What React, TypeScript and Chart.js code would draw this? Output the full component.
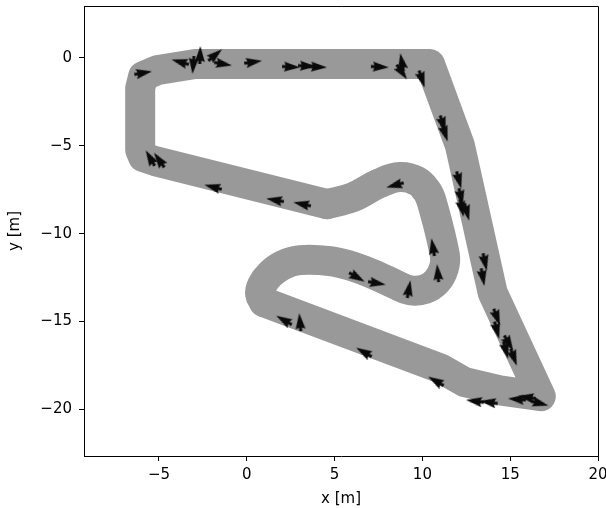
import React, { useEffect, useRef } from 'react';
import { Chart, registerables } from 'chart.js';

Chart.register(...registerables);

// Track centre line (m): straight / cornered part
const trackSharpX = [4.57, -5.22, -5.90, -6.07, -6.07, -5.90, -5.05, -2.94, 10.43, 12.13, 14.01, 16.74, 14.41, 12.42, 11.00, 0.98];
const trackSharpY = [-8.32, -5.87, -5.64, -5.24, -1.71, -1.03, -0.68, -0.34, -0.34, -4.96, -13.39, -19.26, -18.92, -18.46, -17.66, -13.90];
// Track centre line (m): smooth S-bends and hairpin
const trackCurveX = [4.57, 6.05, 7.58, 8.72, 9.69, 10.26, 10.54, 11.28, 11.22, 10.82, 10.14, 9.29, 8.44, 7.58, 6.16, 4.74, 3.03, 2.06, 1.33, 0.87, 0.76, 0.98];
const trackCurveY = [-8.32, -7.92, -7.12, -6.78, -7.01, -7.58, -8.21, -11.23, -11.97, -12.71, -13.16, -13.22, -12.88, -12.48, -11.91, -11.57, -11.51, -11.79, -12.31, -12.93, -13.45, -13.90];

// Arrow positions (m) and headings (deg, counter-clockwise from +x)
const arrowX = [-5.90, -3.79, -3.05, -2.66, -1.80, -1.35, 0.36, 2.52, 3.43, 4.06, 7.58, 8.83, 8.83, 9.97, 11.17, 11.28, 12.08, 12.19, 12.24, 12.53, 13.56, 13.44, 14.24, 14.24, 14.92, 14.75, 15.20, 15.38, 15.94, 16.68, 12.99, 13.78, 10.77, 6.67, 2.12, 3.03, 6.27, 7.41, 9.23, 10.60, 10.88, 8.44, 1.61, 3.15, -1.92, -5.50, -4.99];
const arrowY = [-0.85, -0.23, -0.40, 0.17, 0.17, -0.34, -0.23, -0.51, -0.46, -0.51, -0.51, -0.23, -0.80, -1.20, -3.76, -4.27, -6.95, -7.92, -8.55, -8.77, -11.62, -12.48, -14.76, -15.50, -16.24, -16.64, -17.04, -19.43, -19.32, -19.66, -19.54, -19.60, -18.40, -16.75, -14.93, -15.04, -12.48, -12.82, -13.16, -10.77, -12.25, -7.24, -8.09, -8.32, -7.35, -5.70, -5.81];
const arrowAngle = [10, 164, -95, 88, 40, -10, 8, -3, -3, -3, -3, 100, -55, -72, -72, -72, -75, -78, -78, -75, -78, -80, -70, -75, -60, -75, -70, 175, 172, -15, 172, 172, 150, 150, 150, 95, -30, -10, 80, 100, 95, 195, 170, 168, 165, 120, 125];

const xTicks = [-5, 0, 5, 10, 15, 20];
const yTicks = [-20, -15, -10, -5, 0];

function fmt(v: number | string) {
  const n = Number(v);
  return n < 0 ? '\u2212' + Math.abs(n) : String(n);
}

function makeArrow(): HTMLCanvasElement {
  const c = document.createElement('canvas');
  c.width = 24;
  c.height = 24;
  const g = c.getContext('2d')!;
  g.translate(12, 12);
  g.fillStyle = '#0a0a0a';
  g.beginPath();
  g.moveTo(9, 0);
  g.lineTo(-7, 5);
  g.lineTo(-5.5, 1.6);
  g.lineTo(-9, 1.6);
  g.lineTo(-9, -1.6);
  g.lineTo(-5.5, -1.6);
  g.lineTo(-7, -5);
  g.closePath();
  g.fill();
  return c;
}

const framePlugin = {
  id: 'frame',
  afterDraw(chart: any) {
    const { ctx, chartArea } = chart;
    const { left, top, right, bottom } = chartArea;
    ctx.save();
    ctx.strokeStyle = '#000';
    ctx.lineWidth = 1;
    ctx.beginPath();
    ctx.moveTo(Math.round(left), Math.round(top) + 0.5);
    ctx.lineTo(Math.round(right) + 0.5, Math.round(top) + 0.5);
    ctx.lineTo(Math.round(right) + 0.5, Math.round(bottom));
    ctx.stroke();
    ctx.restore();
  },
};

const trackStyle = {
  type: 'line',
  borderColor: '#999999',
  borderWidth: 30,
  borderJoinStyle: 'round',
  borderCapStyle: 'round',
  pointRadius: 0,
  fill: false,
  order: 1,
};

export default function App() {
  const ref = useRef<HTMLCanvasElement | null>(null);
  useEffect(() => {
    if (!ref.current) return;
    const arrowImg = makeArrow();
    const font = { family: 'DejaVu Sans', size: 15 };
    const chart = new Chart(ref.current, {
      type: 'line',
      data: {
        datasets: [
          {
            type: 'scatter',
            data: arrowX.map((x, i) => ({ x, y: arrowY[i] })),
            pointStyle: arrowImg as any,
            pointRadius: 5,
            pointRotation: arrowAngle.map((a) => -a) as any,
            showLine: false,
            order: 0,
          } as any,
          {
            ...trackStyle,
            data: trackSharpX.map((x, i) => ({ x, y: trackSharpY[i] })),
            tension: 0,
          } as any,
          {
            ...trackStyle,
            data: trackCurveX.map((x, i) => ({ x, y: trackCurveY[i] })),
            tension: 0.4,
          } as any,
        ],
      },
      options: {
        animation: false,
        responsive: false,
        events: [],
        plugins: { legend: { display: false }, tooltip: { enabled: false } },
        layout: { padding: { left: 0, top: 6, right: 8, bottom: 0 } },
        scales: {
          x: {
            type: 'linear',
            min: -9.27,
            max: 20,
            afterBuildTicks: (s: any) => {
              s.ticks = xTicks.map((v) => ({ value: v }));
            },
            afterFit: (s: any) => {
              s.height = 52;
              s.paddingLeft = 0;
              s.paddingRight = 0;
            },
            grid: { display: true, drawOnChartArea: false, drawTicks: true, tickLength: 5, tickColor: '#000', tickWidth: 1 },
            border: { display: true, color: '#000', width: 1 },
            ticks: { color: '#000', font, padding: 5.5, maxRotation: 0, autoSkip: false, callback: fmt },
            title: { display: true, text: 'x [m]', color: '#000', font, padding: { top: 0, bottom: 0 } },
          },
          y: {
            type: 'linear',
            min: -22.66,
            max: 2.96,
            afterBuildTicks: (s: any) => {
              s.ticks = yTicks.map((v) => ({ value: v }));
            },
            afterFit: (s: any) => {
              s.width = 84;
              s.paddingTop = 0;
              s.paddingBottom = 0;
            },
            grid: { display: true, drawOnChartArea: false, drawTicks: true, tickLength: 5, tickColor: '#000', tickWidth: 1 },
            border: { display: true, color: '#000', width: 1 },
            ticks: { color: '#000', font, padding: 7, autoSkip: false, callback: fmt },
            title: { display: true, text: 'y [m]', color: '#000', font, padding: { top: 6, bottom: 0 } },
          },
        },
      } as any,
      plugins: [framePlugin],
    });
    return () => chart.destroy();
  }, []);
  return (
    <div style={{ position: 'absolute', left: 0, top: 0, width: 606, height: 508 }}>
      <canvas ref={ref} width={606} height={508} style={{ display: 'block' }} />
    </div>
  );
}
